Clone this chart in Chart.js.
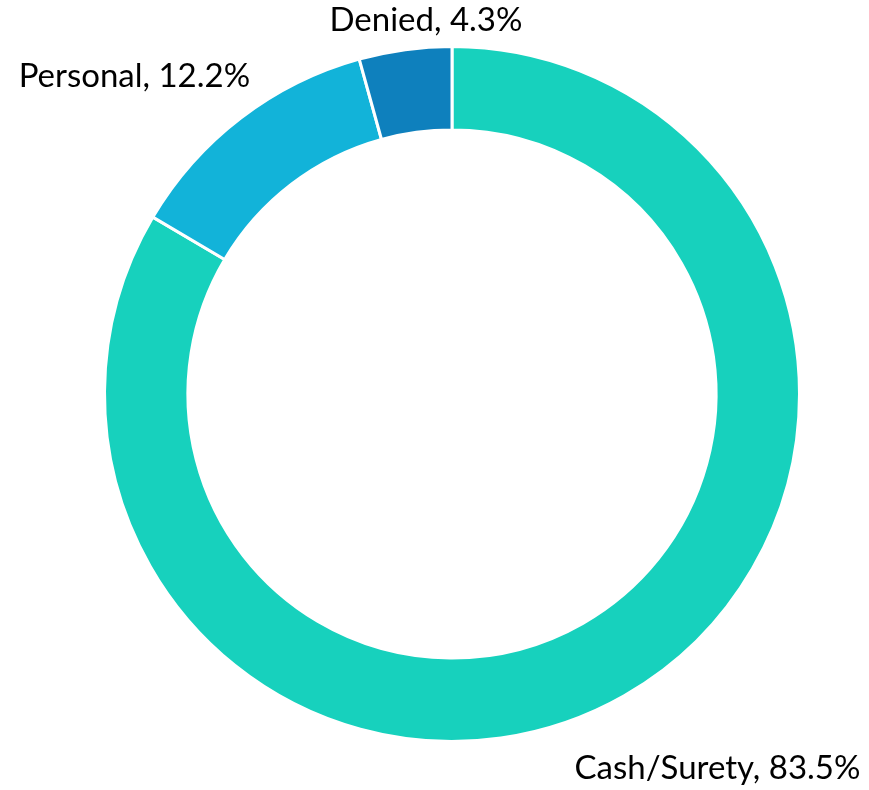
<!DOCTYPE html>
<html>
<head>
<meta charset="utf-8">
<script src="https://cdn.jsdelivr.net/npm/chart.js@4/dist/chart.umd.min.js"></script>
<style>
  html, body { margin: 0; padding: 0; background: #ffffff; }
  #wrap { width: 869px; height: 790px; }
</style>
</head>
<body>
<div id="wrap"><canvas id="c" width="869" height="790"></canvas></div>
<script>
const categories = ["Cash/Surety", "Personal", "Denied"];
const values = [83.5, 12.2, 4.3];
const colors = ["#17D1BD", "#12B3D9", "#0E80BD"];

// label anchor offsets relative to chart centre, as fractions of outer radius
const labelOffsets = [[0.764, 1.078], [-0.914, -0.914], [-0.075, -1.075]];

const labelPlugin = {
  id: 'outLabels',
  afterDatasetsDraw(chart) {
    const ctx = chart.ctx;
    const meta = chart.getDatasetMeta(0);
    ctx.save();
    ctx.font = '33px "Lato", "Open Sans", sans-serif';
    ctx.fillStyle = '#000000';
    ctx.textAlign = 'center';
    ctx.textBaseline = 'middle';
    meta.data.forEach((arc, i) => {
      const R = arc.outerRadius;
      const x = arc.x + labelOffsets[i][0] * R;
      const y = arc.y + labelOffsets[i][1] * R;
      ctx.fillText(categories[i] + ', ' + values[i].toFixed(1) + '%', x, y);
    });
    ctx.restore();
  }
};

new Chart(document.getElementById('c'), {
  type: 'doughnut',
  data: {
    labels: categories,
    datasets: [{
      data: values,
      backgroundColor: colors,
      borderColor: '#ffffff',
      borderWidth: 3
    }]
  },
  options: {
    responsive: false,
    animation: false,
    cutout: '76%',
    layout: { padding: { left: 103, right: 68, top: 45, bottom: 47 } },
    plugins: {
      legend: { display: false },
      tooltip: { enabled: false }
    }
  },
  plugins: [labelPlugin]
});
</script>
</body>
</html>
